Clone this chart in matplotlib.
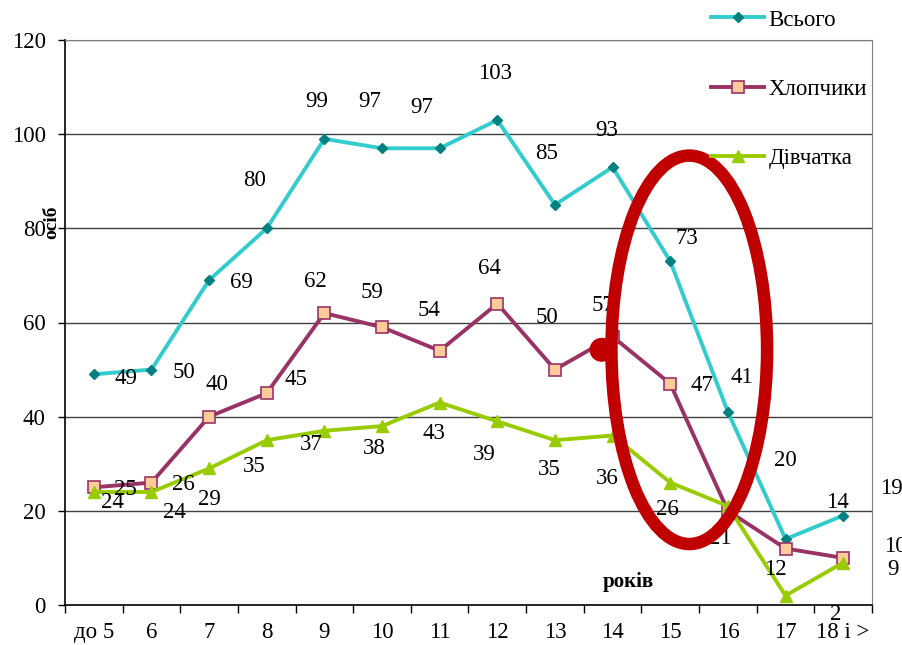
import numpy as np
import matplotlib
matplotlib.use("Agg")
import matplotlib.pyplot as plt
from matplotlib.patches import Ellipse

plt.rcParams['font.family'] = ['Liberation Serif', 'DejaVu Serif']

# ages and counts
categories = ["до 5", "6", "7", "8", "9", "10", "11", "12", "13", "14", "15", "16", "17", "18 і >"]
total = [49, 50, 69, 80, 99, 97, 97, 103, 85, 93, 73, 41, 14, 19]
boys = [25, 26, 40, 45, 62, 59, 54, 64, 50, 57, 47, 20, 12, 10]
girls = [24, 24, 29, 35, 37, 38, 43, 39, 35, 36, 26, 21, 2, 9]

# label offsets in pixels (the exported labels sit all over the place)
total_off = [(32, -4), (32, -3), (32, -2), (-12, 48), (-8, 37), (-12, 47), (-18, 41),
             (-2, 47), (-8, 51), (-6, 37), (17, 23), (14, 34), (52, 37), (48, 27)]
boys_off = [(32, -2), (32, -2), (8, 32), (29, 14), (-9, 32), (-10, 35), (-11, 40),
            (-8, 35), (-8, 52), (-10, 31), (32, -2), (57, 50), (-10, -21), (52, 11)]
girls_off = [(19, -10), (23, -21), (0, -31), (-12, -26), (-13, -14), (-8, -22), (-6, -31),
             (-13, -33), (-6, -29), (-5, -43), (-3, -27), (-8, -32), (50, -19), (50, -7)]

FS = 16.5
W, H = 902, 645
fig = plt.figure(figsize=(W / 100, H / 100), dpi=100)
ax = fig.add_axes([65 / W, (H - 605) / H, (872 - 65) / W, (605 - 40) / H])

x = np.arange(len(categories))

ax.plot(x, total, color="#33CCCC", lw=2.8, marker="D", ms=5,
        mfc="#008080", mec="#008080", label="Всього", zorder=4)
ax.plot(x, boys, color="#993366", lw=2.8, marker="s", ms=8,
        mfc="#FFCC99", mec="#993366", mew=1.2, label="Хлопчики", zorder=4)
ax.plot(x, girls, color="#99CC00", lw=2.8, marker="^", ms=8,
        mfc="#99CC00", mec="#99CC00", label="Дівчатка", zorder=4)

for vals, offs in [(total, total_off), (boys, boys_off), (girls, girls_off)]:
    for i, v in enumerate(vals):
        ax.annotate(str(v), (x[i], v), xytext=offs[i], textcoords="offset pixels",
                    ha="center", va="center", fontsize=FS, annotation_clip=False,
                    zorder=5)

ax.set_xlim(-0.5, len(categories) - 0.5)
ax.set_ylim(0, 120)
ax.set_yticks(range(0, 121, 20))
ax.set_xticks(x)
ax.set_xticklabels(categories)
ax.set_xticks(np.arange(-0.5, len(categories), 1), minor=True)
ax.tick_params(axis="x", which="major", length=0, labelsize=FS, pad=12)
ax.tick_params(axis="x", which="minor", length=6, width=1, direction="out")
ax.tick_params(axis="y", length=5, width=1, labelsize=FS, pad=9)

for yv in range(20, 121, 20):
    ax.axhline(yv, color="#404040", lw=1, zorder=1)

for side in ["left", "bottom"]:
    ax.spines[side].set_color("black")
    ax.spines[side].set_linewidth(1.2)
ax.spines["right"].set_color("#808080")
ax.spines["top"].set_color("#808080")

# axis titles placed like in the original export
fig.text(52 / W, 1 - 222 / H, "осіб", rotation=90, fontsize=14, fontweight="bold",
         ha="center", va="center")
fig.text(628 / W, 1 - 582 / H, "років", fontsize=15, fontweight="bold",
         ha="center", va="center", zorder=6)

# red highlight
ax.add_patch(Ellipse((10.33, 54.2), 2.7, 82.5, fill=False, ec="#C00000", lw=9,
                     zorder=10, clip_on=False))
ax.add_patch(Ellipse((8.81, 54.2), 0.42, 5.1, fc="#C00000", ec="none", zorder=10,
                     clip_on=False))

fig.legend(loc="upper left", bbox_to_anchor=(700 / W, 1 + 2 / H), frameon=False,
           fontsize=FS, borderpad=0, handlelength=2.3, handletextpad=0.2,
           labelspacing=2.1)

plt.savefig("out.png", dpi=100)
